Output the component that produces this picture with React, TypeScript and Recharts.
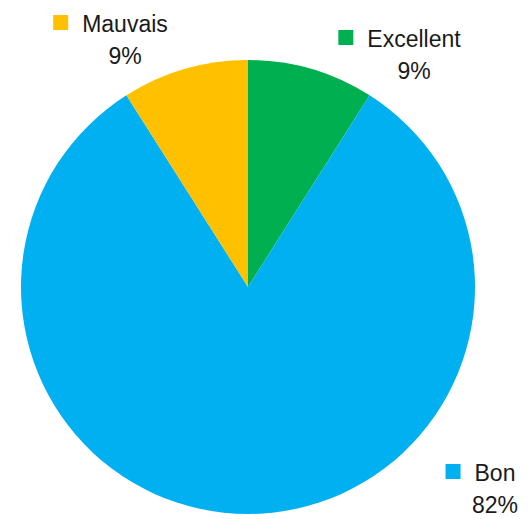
import { PieChart, Pie, Cell } from 'recharts';

const CATEGORIES = ['Excellent', 'Bon', 'Mauvais'];
const VALUES = [9, 82, 9];
const COLORS = ['#00B050', '#00B0F0', '#FFC000'];

// label anchor (centre of the name, baseline) as offsets from the pie centre — layout only
const LABEL_OFFSETS: Record<string, { dx: number; dy: number }> = {
  Excellent: { dx: 166, dy: -240 },
  Bon: { dx: 247, dy: 194 },
  Mauvais: { dx: -123, dy: -255 },
};

const data = CATEGORIES.map((name, i) => ({ name, value: VALUES[i], color: COLORS[i] }));
const total = VALUES.reduce((a, b) => a + b, 0);

const FONT_FAMILY = '"Liberation Sans", Arial, sans-serif';
const FONT_SIZE = 23;

let measureCtx: CanvasRenderingContext2D | null = null;
function textWidth(s: string) {
  if (!measureCtx) measureCtx = document.createElement('canvas').getContext('2d');
  if (!measureCtx) return s.length * FONT_SIZE * 0.5;
  measureCtx.font = `${FONT_SIZE}px ${FONT_FAMILY}`;
  return measureCtx.measureText(s).width;
}

function renderLabel(props: any) {
  const { cx, cy, payload, value } = props;
  const off = LABEL_OFFSETS[payload.name];
  const x = cx + off.dx;
  const y = cy + off.dy;
  const w = textWidth(payload.name);
  const left = x - w / 2;
  const pct = Math.round((value / total) * 100) + '%';
  return (
    <g>
      <rect x={left - 29} y={y - 17} width={15} height={15} fill={payload.color} />
      <text x={x} y={y} fontFamily={FONT_FAMILY} fontSize={FONT_SIZE} fill="#1a1a1a" textAnchor="middle">
        {payload.name}
      </text>
      <text x={x} y={y + 32} fontFamily={FONT_FAMILY} fontSize={FONT_SIZE} fill="#1a1a1a" textAnchor="middle">
        {pct}
      </text>
    </g>
  );
}

export default function App() {
  return (
    <div style={{ position: 'absolute', left: 0, top: 0, width: 528, height: 519, background: '#fff' }}>
      <PieChart width={528} height={519} margin={{ top: 0, right: 0, bottom: 0, left: 0 }}>
        <Pie
          data={data}
          dataKey="value"
          nameKey="name"
          cx={248}
          cy={287}
          outerRadius={227}
          startAngle={90}
          endAngle={-270}
          stroke="none"
          label={renderLabel}
          labelLine={false}
          isAnimationActive={false}
        >
          {data.map((d) => (
            <Cell key={d.name} fill={d.color} />
          ))}
        </Pie>
      </PieChart>
    </div>
  );
}
